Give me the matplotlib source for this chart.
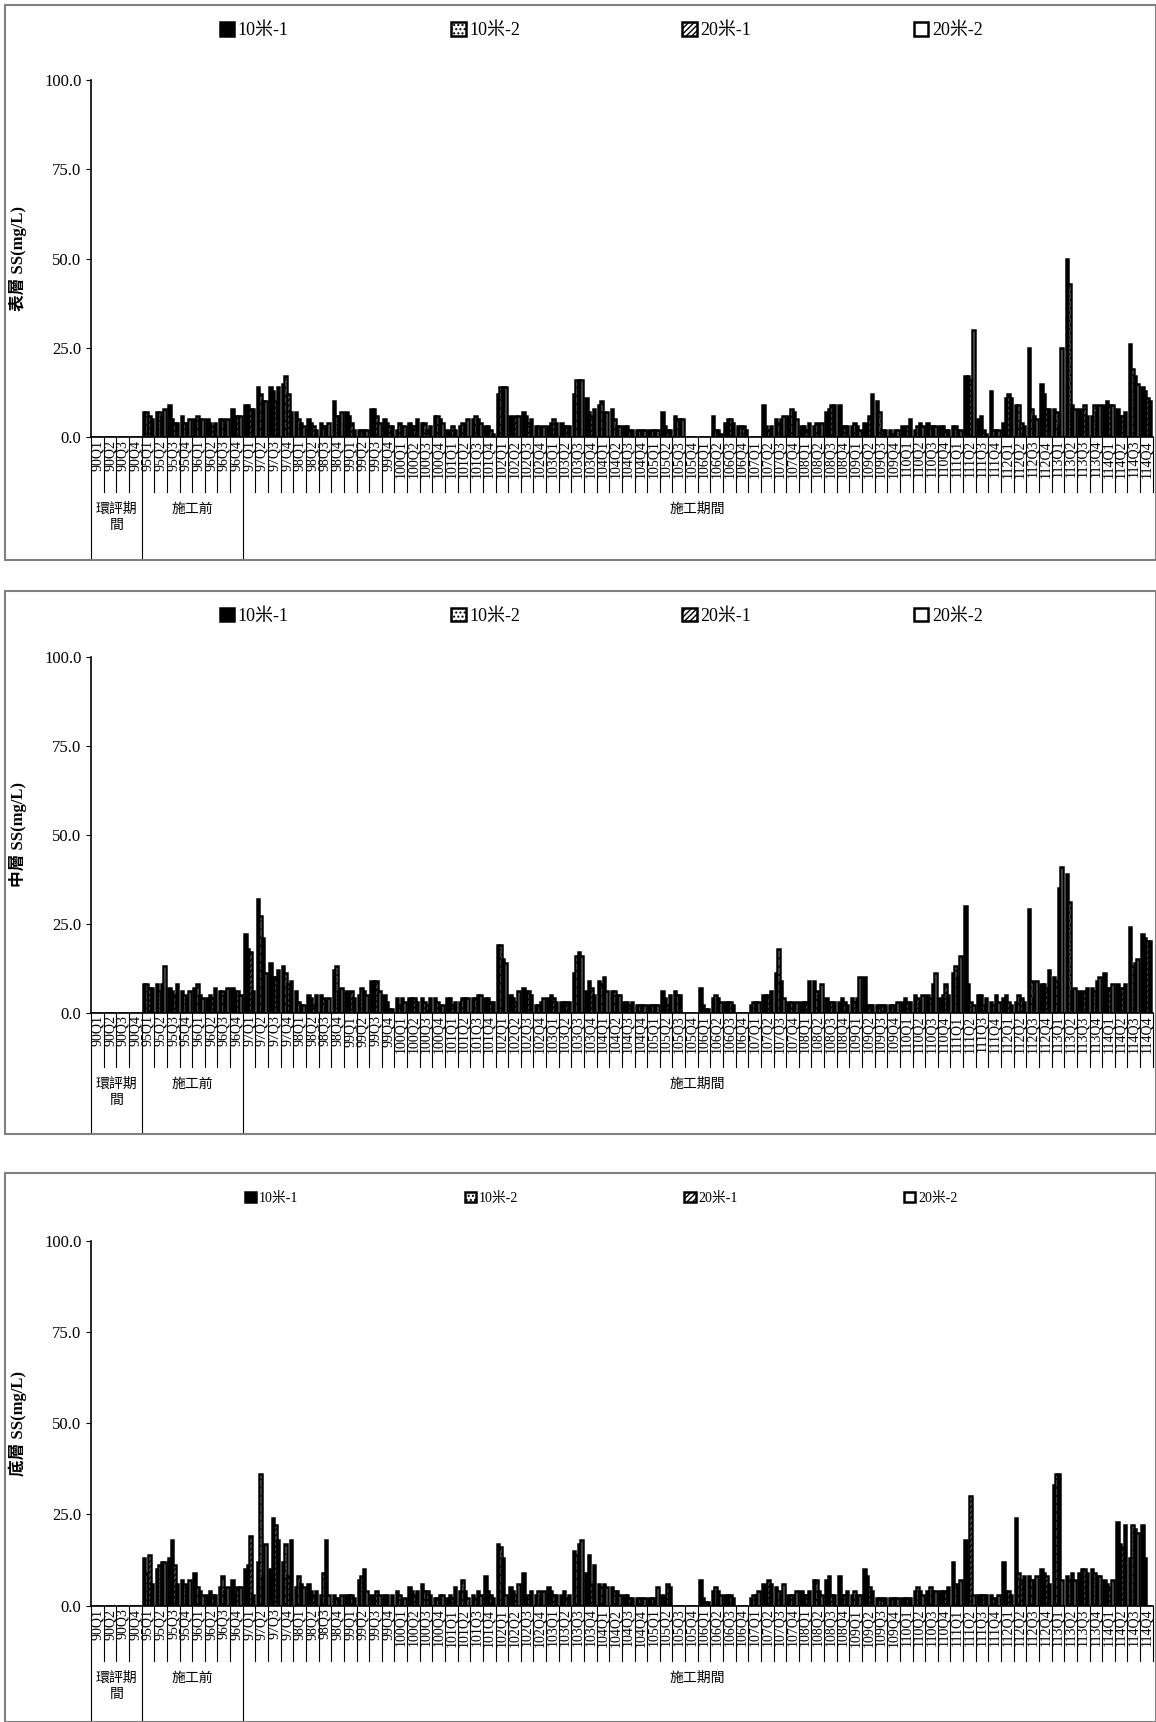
import matplotlib.pyplot as plt
from matplotlib.patches import Rectangle
import numpy as np

plt.rcParams['font.family'] = ['Liberation Serif', 'Noto Sans CJK TC', 'DejaVu Sans']
plt.rcParams['hatch.linewidth'] = 1.0

series = ['10米-1', '10米-2', '20米-1', '20米-2']
quarters = ['90Q1', '90Q2', '90Q3', '90Q4'] + [f'{y}Q{q}' for y in range(95, 115) for q in range(1, 5)]
groups = [('環評期\n間', 0, 4), ('施工前', 4, 12), ('施工期間', 12, 84)]

Z = (0, 0, 0, 0)
surface = [Z, Z, Z, Z,
    (7,7,6,5), (7,7,6,8), (9,5,4,4), (6,4,4,5), (5,6,5,5), (5,4,3,4), (5,5,4,5), (8,6,6,6),
    (9,9,8,8), (14,12,10,10), (14,13,10,14), (15,17,12,7), (7,5,4,3), (5,4,3,2), (4,3,3,4), (10,6,6,7),
    (7,6,4,2), (2,2,2,2), (8,8,6,4), (5,4,3,3), (2,4,3,3), (4,3,3,5), (4,4,2,3), (6,6,5,4),
    (2,1,3,2), (3,4,3,5), (5,6,5,4), (3,3,2,1), (12,14,14,14), (6,5,6,6), (7,6,4,5), (3,3,2,3),
    (3,4,5,4), (4,3,3,3), (12,16,16,16), (11,7,6,8), (9,10,7,7), (8,5,3,3), (3,3,2,2), (2,2,2,2),
    (2,2,2,2), (7,3,2,2), (6,5,5,5), Z, Z, (6,2,2,1), (4,5,5,4), (3,3,3,2),
    Z, (9,3,2,3), (5,4,5,6), (6,8,7,5), (3,3,2,4), (3,4,3,4), (7,8,9,9), (9,3,3,3),
    (3,4,3,2), (4,3,6,12), (10,7,2,2), (2,1,2,2), (3,2,3,5), (2,3,4,3), (4,3,3,3), (3,3,2,2),
    (3,3,2,2), (17,17,16,30), (5,6,2,1), (13,2,2,2), (4,11,12,11), (9,9,4,3), (25,8,6,5), (15,12,8,8),
    (8,7,3,25), (50,43,9,8), (8,5,9,6), (6,9,7,9), (9,10,9,9), (8,6,6,7), (26,19,17,15), (14,13,11,10)]

middle = [Z, Z, Z, Z,
    (8,8,7,7), (8,6,8,13), (7,6,5,8), (6,5,4,6), (7,8,5,4), (4,5,4,7), (6,6,5,7), (7,6,6,5),
    (22,18,17,6), (32,27,21,11), (14,10,10,12), (13,11,8,9), (6,3,2,2), (5,4,2,5), (5,4,3,4), (12,13,6,7),
    (6,5,6,4), (5,7,6,5), (9,9,9,6), (5,3,1,1), (4,2,4,3), (4,4,4,3), (4,3,2,4), (4,3,2,2),
    (4,4,2,3), (3,4,4,4), (4,4,5,5), (4,4,3,3), (19,19,15,14), (5,4,3,6), (7,6,6,5), (2,2,3,4),
    (4,5,4,3), (3,3,3,3), (11,16,17,16), (6,9,7,5), (9,8,10,6), (6,6,5,5), (3,3,2,3), (2,2,2,2),
    (2,2,2,2), (6,4,2,5), (6,5,5,0), Z, (7,2,1,1), (4,5,4,3), (3,3,3,2), Z,
    (2,3,3,3), (5,5,5,6), (11,18,9,4), (3,3,2,3), (3,3,3,9), (9,6,5,8), (4,3,3,3), (3,4,3,2),
    (4,3,4,10), (10,2,2,2), (2,2,2,2), (2,2,2,3), (3,4,3,3), (5,4,3,5), (5,4,8,11), (4,5,8,5),
    (11,13,10,16), (30,8,3,2), (5,5,2,4), (3,2,5,3), (4,5,3,2), (3,5,4,3), (29,9,4,9), (8,8,7,12),
    (10,9,35,41), (39,31,6,7), (6,5,6,7), (7,6,9,10), (11,7,7,8), (8,7,7,8), (24,13,14,15), (22,21,20,20)]

bottom = [Z, Z, Z, Z,
    (13,9,14,6), (10,11,12,12), (13,18,11,6), (7,6,5,7), (9,5,4,3), (3,4,3,3), (5,8,4,5), (7,3,5,5),
    (10,11,19,3), (12,36,8,17), (10,24,22,18), (12,17,8,18), (5,8,6,5), (6,4,3,4), (3,9,18,3), (3,2,2,3),
    (3,3,3,2), (7,8,10,4), (3,2,4,3), (3,3,0,3), (4,3,1,2), (5,4,3,4), (6,4,4,3), (2,2,3,3),
    (2,3,2,5), (4,7,4,2), (3,2,4,3), (8,4,3,2), (17,16,13,3), (5,4,3,6), (9,2,3,4), (3,4,2,4),
    (5,4,3,3), (3,4,2,3), (15,14,17,18), (9,14,6,11), (6,5,6,5), (5,4,4,3), (3,3,2,2), (2,2,2,2),
    (2,2,2,5), (3,2,6,5), Z, Z, (7,2,1,1), (4,5,4,3), (3,3,3,2), Z,
    (2,3,3,4), (6,5,7,6), (5,4,3,6), (3,3,3,4), (4,3,3,4), (7,7,4,3), (7,8,3,3), (8,3,3,4),
    (3,4,3,3), (10,8,5,4), (2,2,2,2), (2,2,2,2), (2,2,2,2), (4,5,4,3), (4,5,4,4), (4,4,4,5),
    (12,6,5,7), (18,13,30,3), (3,3,3,3), (3,2,2,3), (12,4,4,3), (24,9,7,8), (8,7,7,8), (10,9,8,6),
    (33,36,36,7), (8,7,9,7), (9,10,10,9), (10,9,8,8), (7,6,5,7), (23,17,16,22), (13,22,21,20), (22,13,0,0)]

panels = [('表層 SS(mg/L)', surface), ('中層 SS(mg/L)', middle), ('底層 SS(mg/L)', bottom)]

styles = [dict(color='black'), dict(color='white', hatch='....'),
          dict(color='white', hatch='//////'), dict(color='white')]

W, H = 1156, 1722
fig = plt.figure(figsize=(W / 100, H / 100), dpi=100)

frames = [(5, 510), (538, 1033), (1068, 1568)]
axes_y = [(73, 398), (598, 922), (1130, 1462)]
x = np.arange(len(quarters))
for k, (ylabel, data) in enumerate(panels):
    f0, f1 = frames[k]
    fig.add_artist(Rectangle((5 / 1053, 1 - f1 / 1568), 1048 / 1053, (f1 - f0) / 1568,
                             transform=fig.transFigure, fill=False, ec='#808080', lw=1.5))
    a0, a1 = axes_y[k]
    ax = fig.add_axes([83 / 1053, 1 - a1 / 1568, 967 / 1053, (a1 - a0) / 1568])
    vals = np.array(data)
    bars = []
    for j in range(4):
        b = ax.bar(x + (j - 1.5) * 0.2, vals[:, j], 0.2, facecolor=styles[j]['color'],
                   hatch=styles[j].get('hatch'), edgecolor='black', linewidth=1.8, label=series[j])
        bars.append(b)
    ax.set_xlim(-0.5, len(quarters) - 0.5)
    ax.set_ylim(0, 100)
    ax.set_yticks([0, 25, 50, 75, 100])
    ax.set_yticklabels([f'{v:.1f}' for v in [0, 25, 50, 75, 100]], fontsize=12)
    for s in ['top', 'right']:
        ax.spines[s].set_visible(False)
    ax.spines['left'].set_linewidth(1.2)
    ax.spines['bottom'].set_linewidth(1.2)
    ax.set_xticks([])
    ax.set_ylabel(ylabel, fontsize=12, fontweight='bold', labelpad=12)
    h_ax = a1 - a0
    lab_d = -50 / h_ax
    grp_d = -(f1 - a1 - 2) / h_ax
    for i, q in enumerate(quarters):
        ax.text(i, -0.008, q, rotation=90, ha='center', va='top', fontsize=10,
                transform=ax.get_xaxis_transform())
        ax.plot([i - 0.5, i - 0.5], [0, lab_d], color='black', lw=0.8,
                transform=ax.get_xaxis_transform(), clip_on=False)
    ax.plot([83.5, 83.5], [0, lab_d], color='black', lw=0.8,
            transform=ax.get_xaxis_transform(), clip_on=False)
    for name, g0, g1 in groups:
        ax.plot([g0 - 0.5, g0 - 0.5], [lab_d, grp_d], color='black', lw=0.8,
                transform=ax.get_xaxis_transform(), clip_on=False)
        ax.text((g0 + g1 - 1) / 2, lab_d - 0.03, name, ha='center', va='top', fontsize=10,
                transform=ax.get_xaxis_transform(), linespacing=1.3)
    fs = 13 if k < 2 else 10
    fig.legend(handles=bars, loc='center', bbox_to_anchor=(0.52, 1 - (f0 + 23) / 1568), ncol=4,
               frameon=False, fontsize=fs, columnspacing=9 if k < 2 else 12,
               handlelength=0.8, handleheight=0.8, handletextpad=0.2)

fig.savefig('out.png', dpi=100)
